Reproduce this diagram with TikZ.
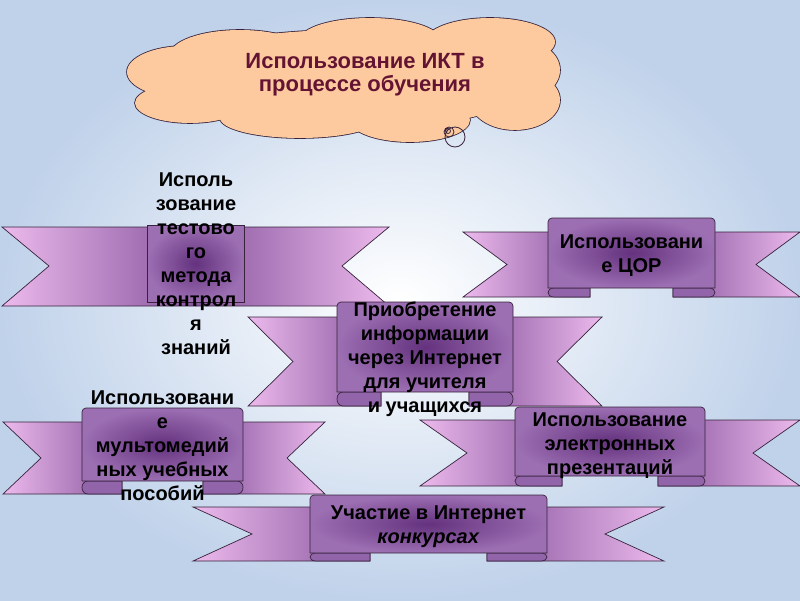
\documentclass[tikz,border=0pt]{standalone}
\usepackage{fontspec}
\setmainfont{Liberation Sans}
\usepackage{tikz}

\definecolor{WingLight}{RGB}{236,186,236}
\definecolor{WingDark}{RGB}{136,86,158}
\definecolor{PanelDark}{RGB}{100,50,126}
\definecolor{PanelLight}{RGB}{156,110,178}
\definecolor{CurlPurple}{RGB}{146,100,170}
\definecolor{Edge}{RGB}{55,35,60}
\definecolor{CloudFill}{RGB}{252,202,158}
\definecolor{Maroon}{RGB}{100,20,50}
\definecolor{SkyBlue}{RGB}{192,210,234}

\begin{document}
\begin{tikzpicture}
    [x=1pt, y=-1pt,
     font=\bfseries\fontsize{20}{24}\selectfont,
     edge/.style={draw=Edge, line width=.7pt},
     lwing/.style={edge, left color=WingLight, right color=WingDark},
     rwing/.style={edge, left color=WingDark, right color=WingLight},
     curl/.style={edge, fill=CurlPurple},
     panel/.style={edge, inner color=PanelDark, outer color=PanelLight},
     caption/.style={align=center, inner sep=0pt},
    ]
    \useasboundingbox (0,0) rectangle (800,600);
    % Background
    \shade[inner color=white, outer color=SkyBlue] (0,0) rectangle (800,600);

    % Cloud: outline of all lobes first, then the fill on top
    \def\lobes{345/80/190/50, 240/55/70/25, 370/40/70/22, 490/42/65/24,
               185/72/58/26, 190/103/55/20, 300/118/80/20, 410/120/60/22,
               515/100/45/30, 520/70/40/30}
    \foreach \cx/\cy/\rx/\ry in \lobes
        \draw[Edge, line width=1.6pt] (\cx,\cy) ellipse [x radius=\rx, y radius=\ry];
    \foreach \cx/\cy/\rx/\ry in \lobes
        \fill[CloudFill] (\cx,\cy) ellipse [x radius=\rx, y radius=\ry];
    \draw[Edge, line width=.8pt] (455,137) circle (10) (449,132) circle (5)
                                 (448,131) circle (2.5);
    \node[caption, text=Maroon, font=\bfseries\fontsize{22}{23}\selectfont]
        (title) at (365,75) {Использование ИКТ в\\процессе обучения};

    % Ribbon without curls
    \draw[lwing] (2,227) -- (196,227) -- (196,306) -- (2,306) -- (49,266) -- cycle;
    \draw[rwing] (389,227) -- (196,227) -- (196,306) -- (389,306) -- (342,266) -- cycle;
    \draw[panel] (147,225) rectangle (244,302);
    \node[caption] (test) at (196,264)
        {Исполь\\зование\\тестово\\го\\метода\\контрол\\я\\знаний};

    % Ribbons with curls
    \foreach \rb/\L/\R/\nd/\bt/\bb/\pl/\pr/\pt/\pb/\cw/\dy/\txt in
        {cor/463/800/44/232/297/548/715/218/288/42/3/{Использовани\\е ЦОР},
         inet/248/602/45/317/406/337/513/302/392/44/12/{Приобретение\\информации\\через Интернет\\для учителя\\и учащихся},
         media/3/325/38/422/494/82/243/408/481/40/1/{Использовани\\е\\мультомедий\\ных учебных\\пособий},
         pres/420/800/47/420/486/515/705/407/476/47/4/{Использование\\электронных\\презентаций},
         contest/193/664/59/507/561/310/547/495/553/60/3/{Участие в Интернет\\\textit{конкурсах}}} {
        \pgfmathsetmacro\my{(\bt+\bb)/2}
        \draw[lwing] (\L,\bt) -- (\pl+\cw,\bt) -- (\pl+\cw,\bb) -- (\L,\bb) -- (\L+\nd,\my) -- cycle;
        \draw[rwing] (\R,\bt) -- (\pr-\cw,\bt) -- (\pr-\cw,\bb) -- (\R,\bb) -- (\R-\nd,\my) -- cycle;
        % Curls
        \draw[curl] (\pl+\cw,\pb) -- (\pl+\cw,\bb) -- (\pl+6,\bb)
            .. controls (\pl-2,\bb) and (\pl-2,\pb) .. (\pl+6,\pb) -- cycle;
        \draw[curl] (\pr-\cw,\pb) -- (\pr-\cw,\bb) -- (\pr-6,\bb)
            .. controls (\pr+2,\bb) and (\pr+2,\pb) .. (\pr-6,\pb) -- cycle;
        % Panel
        \draw[panel] (\pl,\pb) [rounded corners=4pt] -- (\pl,\pt) -- (\pr,\pt)
            [sharp corners] -- (\pr,\pb) -- cycle;
        \node[caption] (\rb) at ({(\pl+\pr)/2},{(\pt+\pb)/2+\dy}) {\txt};
    }
\end{tikzpicture}
\end{document}
